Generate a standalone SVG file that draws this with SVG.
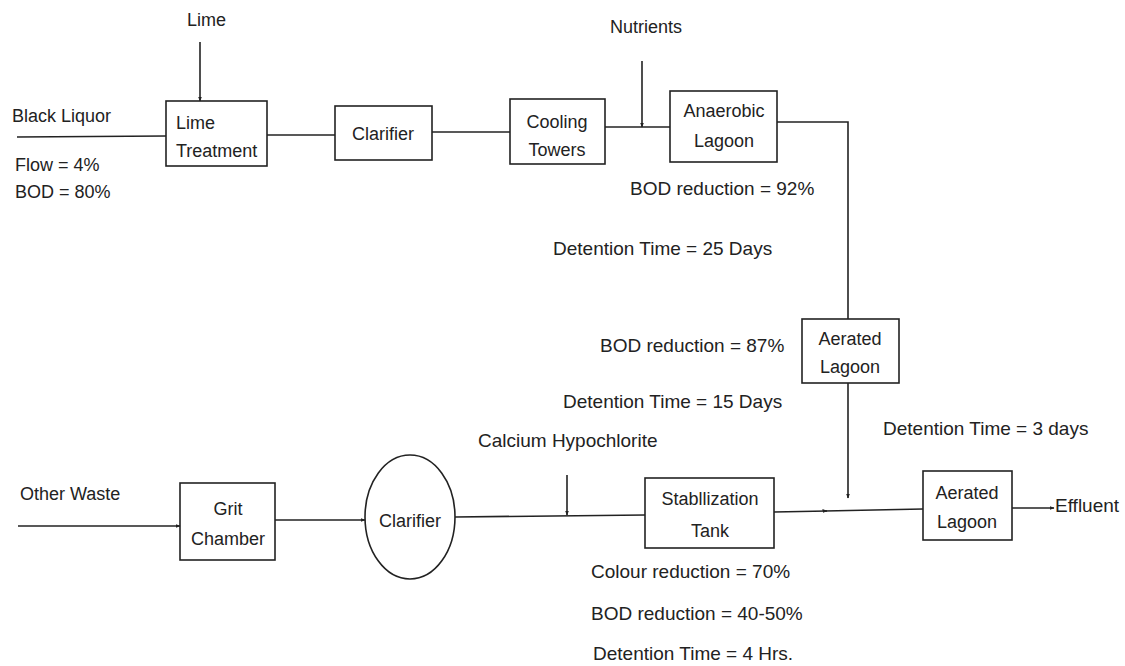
<svg xmlns="http://www.w3.org/2000/svg" width="1125" height="666" viewBox="0 0 1125 666">
<defs>
<marker id="ah" viewBox="0 0 10 10" refX="9" refY="5" markerWidth="5" markerHeight="5" orient="auto" markerUnits="userSpaceOnUse">
<path d="M0,1 L10,5 L0,9 z" fill="#222"/>
</marker>
</defs>
<style>
text{font-family:"Liberation Sans",Arial,sans-serif;fill:#222;font-size:19px}
.lbl{font-size:18px}
.c{text-anchor:middle}
.box{fill:none;stroke:#222;stroke-width:1.6}
.ln{fill:none;stroke:#222;stroke-width:1.6}
</style>
<rect width="1125" height="666" fill="#fff"/>
<g id="connectors">
<line class="ln" x1="200" y1="42" x2="200" y2="101" marker-end="url(#ah)"/>
<line class="ln" x1="17" y1="137" x2="166" y2="136"/>
<line class="ln" x1="267" y1="135" x2="335" y2="135"/>
<line class="ln" x1="432" y1="132" x2="510" y2="132"/>
<line class="ln" x1="605" y1="127" x2="670" y2="127"/>
<line class="ln" x1="642" y1="61" x2="642" y2="127" marker-end="url(#ah)"/>
<polyline class="ln" points="777,122 848,122 848,319"/>
<line class="ln" x1="848" y1="383" x2="848" y2="498" marker-end="url(#ah)"/>
<line class="ln" x1="18" y1="526" x2="180" y2="526" marker-end="url(#ah)"/>
<line class="ln" x1="275" y1="520" x2="365" y2="520" marker-end="url(#ah)"/>
<line class="ln" x1="455" y1="517" x2="645" y2="515"/>
<line class="ln" x1="567" y1="475" x2="567" y2="515" marker-end="url(#ah)"/>
<line class="ln" x1="774" y1="512" x2="827" y2="511" marker-end="url(#ah)"/>
<line class="ln" x1="825" y1="511" x2="923" y2="509"/>
<line class="ln" x1="1012" y1="508" x2="1054" y2="508" marker-end="url(#ah)"/>
</g>
<g id="lime-treatment">
<rect class="box" x="166" y="101" width="101" height="65"/>
<text class="lbl" x="176" y="129">Lime</text>
<text class="lbl" x="176" y="157">Treatment</text>
</g>
<g id="clarifier-top">
<rect class="box" x="335" y="106" width="97" height="54"/>
<text class="lbl c" x="383" y="140">Clarifier</text>
</g>
<g id="cooling-towers">
<rect class="box" x="510" y="99" width="95" height="65"/>
<text class="lbl c" x="557" y="128">Cooling</text>
<text class="lbl c" x="557" y="156">Towers</text>
</g>
<g id="anaerobic-lagoon">
<rect class="box" x="670" y="91" width="107" height="71"/>
<text class="lbl c" x="724" y="117">Anaerobic</text>
<text class="lbl c" x="724" y="147">Lagoon</text>
</g>
<g id="aerated-lagoon-1">
<rect class="box" x="802" y="319" width="97" height="64"/>
<text class="lbl c" x="850" y="345">Aerated</text>
<text class="lbl c" x="850" y="373">Lagoon</text>
</g>
<g id="grit-chamber">
<rect class="box" x="180" y="483" width="95" height="77"/>
<text class="lbl c" x="228" y="515">Grit</text>
<text class="lbl c" x="228" y="545">Chamber</text>
</g>
<g id="clarifier-bottom">
<ellipse class="box" cx="410" cy="517" rx="45" ry="62"/>
<text class="lbl c" x="410" y="527">Clarifier</text>
</g>
<g id="stabilization-tank">
<rect class="box" x="645" y="478" width="129" height="70"/>
<text class="lbl c" x="710" y="505">Stabllization</text>
<text class="lbl c" x="710" y="537">Tank</text>
</g>
<g id="aerated-lagoon-2">
<rect class="box" x="923" y="471" width="89" height="69"/>
<text class="lbl c" x="967" y="499">Aerated</text>
<text class="lbl c" x="967" y="528">Lagoon</text>
</g>
<g id="labels">
<text class="lbl" x="187" y="26">Lime</text>
<text class="lbl" x="12" y="122">Black Liquor</text>
<text class="lbl" x="15" y="171">Flow = 4%</text>
<text class="lbl" x="15" y="198">BOD = 80%</text>
<text class="lbl" x="610" y="33">Nutrients</text>
<text x="630" y="195">BOD reduction = 92%</text>
<text x="553" y="255">Detention Time = 25 Days</text>
<text x="600" y="352">BOD reduction = 87%</text>
<text x="563" y="408">Detention Time = 15 Days</text>
<text x="478" y="447">Calcium Hypochlorite</text>
<text x="883" y="435">Detention Time = 3 days</text>
<text class="lbl" x="20" y="500">Other Waste</text>
<text x="1055" y="512">Effluent</text>
<text x="591" y="578">Colour reduction = 70%</text>
<text x="591" y="620">BOD reduction = 40-50%</text>
<text x="593" y="660">Detention Time = 4 Hrs.</text>
</g>
</svg>
